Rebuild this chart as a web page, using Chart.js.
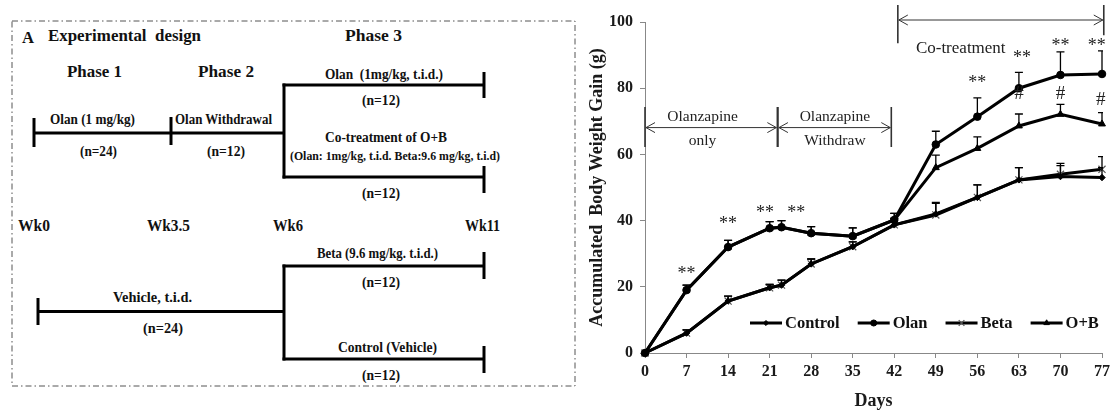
<!DOCTYPE html>
<html><head><meta charset="utf-8">
<script src="https://cdn.jsdelivr.net/npm/chart.js@4.4.0/dist/chart.umd.min.js"></script>
<style>
html,body{margin:0;padding:0;background:#fff;width:1114px;height:413px;overflow:hidden;}
#panelA{position:absolute;left:0;top:0;}
#panelA text{font-family:"Liberation Serif","Times New Roman",serif;font-weight:bold;fill:#111;dominant-baseline:central;text-anchor:middle;}
#wrap{position:absolute;left:585px;top:0;width:529px;height:413px;}
</style></head><body>
<svg id="panelA" width="585" height="413" xmlns="http://www.w3.org/2000/svg"></svg>
<div id="wrap"><canvas id="c" width="529" height="413"></canvas></div>
<script>
// ---------- Panel B data ----------
const days      = [0, 7, 14, 21, 23, 28, 35, 42, 49, 56, 63, 70, 77];
const dayTicks  = [0, 7, 14, 21, 28, 35, 42, 49, 56, 63, 70, 77];
const control   = [0, 6, 15.7, 19.7, 20.5, 26.9, 32.1, 38.7, 42, 47, 52.3, 53.3, 53];
const olan      = [0, 19, 32, 37.7, 38, 36.2, 35.3, 40.2, 63, 71.4, 80, 84, 84.3];
const beta      = [0, 6, 15.7, 19.7, 20.5, 26.9, 32.1, 38.7, 41.7, 47, 52.3, 54, 55.5];
const ob        = [0, 19, 32, 37.7, 38, 36.2, 35.3, 40.2, 56, 61.8, 68.6, 72.1, 69.2];
const controlErr= [0, 1, 1.5, 1, 1.5, 1.5, 1.5, 2, 3.5, 3.8, 3.7, 3.3, 3];
const olanErr   = [0, 1.5, 2, 2, 2, 2, 2.5, 2, 4, 5.7, 4.8, 7, 7];
const betaErr   = [0, 1, 1.5, 1, 1.5, 1.5, 1.5, 2, 3.5, 3.8, 3.7, 3.3, 3.8];
const obErr     = [0, 1.5, 2, 2, 2, 2, 2.5, 2, 3.8, 3.5, 3.6, 3, 3.4];
const seriesNames = ['Control', 'Olan', 'Beta', 'O+B'];
// significance marks [day, value]
const starMarks = [[7,25.1],[14,40.2],[20.2,43.5],[25.5,43.5],[56,82.8],[63.5,90.3],[70,94],[76.1,94]];
const hashMarks = [[63,78.2],[70,78.2],[76.8,76.4]];
// phase spans: [start day, end day, arrow value, bar low, bar high]
const phaseSpans = [[0,22.3,68.1,62.2,74.3],[22.4,41.5,68.1,62.2,74.3],[42.6,77.3,100.6,93.6,105.1]];
const phaseLabels = [['Olanzapine',9.7,71.3],['only',9.7,64],['Olanzapine',32,71.3],['Withdraw',32,64],['Co-treatment',53.2,92]];

// ---------- Panel A (diagram) ----------
const svg = document.getElementById('panelA');
const NS = 'http://www.w3.org/2000/svg';
function el(tag, attrs, txt){ const e=document.createElementNS(NS,tag); for(const k in attrs) e.setAttribute(k,attrs[k]); if(txt!==undefined) e.textContent=txt; svg.appendChild(e); return e; }
function T(cx, cy, s, size, w){ const a={x:cx,y:cy,'font-size':size}; if(w){a.textLength=w;a.lengthAdjust='spacingAndGlyphs';} el('text',a,s); }
function L(x1,y1,x2,y2,w){ el('line',{x1,y1,x2,y2,stroke:'#000','stroke-width':w||3}); }
el('rect',{x:12,y:21,width:563,height:365,fill:'none',stroke:'#555','stroke-width':1,'stroke-dasharray':'6,3,1.5,3'});
T(28,37,'A',17,12);
T(124.5,35,'Experimental\u00a0\u00a0design',17,153);
T(373.5,35,'Phase 3',17,57);
T(94.5,71,'Phase 1',17,55);
T(226,71,'Phase 2',17,56);
T(384,74,'Olan\u00a0\u00a0(1mg/kg, t.i.d.)',14,118);
T(381,100,'(n=12)',14,38);
T(92.5,119,'Olan (1 mg/kg)',14,85);
T(223.5,119,'Olan Withdrawal',14,97);
T(98.5,151,'(n=24)',14,37);
T(226,151,'(n=12)',14,38);
T(386,137,'Co-treatment of O+B',14,122);
T(395,155,'(Olan: 1mg/kg, t.i.d. Beta:9.6 mg/kg, t.i.d)',13.5,210);
T(381,193,'(n=12)',14,38);
T(34,225,'Wk0',16,32); T(168.5,225,'Wk3.5',16,43); T(288,225,'Wk6',16,30); T(482.5,225,'Wk11',16,35);
T(377.5,253,'Beta (9.6 mg/kg. t.i.d.)',14,121);
T(381,282,'(n=12)',14,38);
T(152.5,297,'Vehicle, t.i.d.',14,79);
T(163,328,'(n=24)',14,40);
T(387.5,347,'Control (Vehicle)',14,99);
T(381,375,'(n=12)',14,38);
// lines
L(33,133,284,133); L(34,118,34,147); L(171,117,171,145);
L(284,83.5,284,178.5); L(282.5,85,484,85); L(484,72,484,98);
L(282.5,177,484,177); L(484,166,484,193);
L(38,311.5,284,311.5); L(38,298,38,325);
L(284,264.5,284,360.5); L(282.5,266,484,266); L(484,252,484,279);
L(282.5,359,484,359); L(484,346,484,373);

// ---------- Panel B chart ----------
const SERIF = '"Liberation Serif","Times New Roman",serif';
const pts = v => days.map((d,i)=>({x:d,y:v[i]}));
const styles = [
  {pointStyle:'rectRot', radius:3.2, fill:'#000', stroke:'#000', bw:1},
  {pointStyle:'circle', radius:3.8, fill:'#000', stroke:'#000', bw:1},
  {pointStyle:'crossRot', radius:5, fill:'#555', stroke:'#555', bw:1.2},
  {pointStyle:'triangle', radius:4, fill:'#000', stroke:'#000', bw:1}
];
const vals = [control, olan, beta, ob];
const errs = [controlErr, olanErr, betaErr, obErr];
const datasets = vals.map((v,i)=>({
  label: seriesNames[i], data: pts(v), borderColor:'#000', borderWidth:3, tension:0, clip:false,
  pointStyle: styles[i].pointStyle, pointRadius: styles[i].radius, pointBackgroundColor: styles[i].fill,
  pointBorderColor: styles[i].stroke, pointBorderWidth: styles[i].bw
}));

function drawArrowHead(ctx, x, y, dir){ ctx.moveTo(x + dir*9, y - 5); ctx.lineTo(x, y); ctx.lineTo(x + dir*9, y + 5); }

const overlay = {
  id:'overlay',
  afterDatasetsDraw(chart){
    const {ctx, chartArea:a, scales:{x,y}} = chart;
    ctx.save();
    ctx.beginPath(); ctx.rect(a.left-1, 0, a.right-a.left+2, chart.height); ctx.clip();
    ctx.strokeStyle='#000'; ctx.lineWidth=1.3;
    vals.forEach((v,si)=>{
      days.forEach((d,i)=>{
        const e = errs[si][i]; if(!e) return;
        const px=x.getPixelForValue(d), p0=y.getPixelForValue(v[i]), p1=y.getPixelForValue(v[i]+e);
        ctx.beginPath(); ctx.moveTo(px,p0); ctx.lineTo(px,p1); ctx.moveTo(px-4,p1); ctx.lineTo(px+4,p1); ctx.stroke();
      });
    });
    ctx.restore();
  },
  afterDraw(chart){
    const {ctx, chartArea:a, scales:{x,y}} = chart;
    ctx.save();
    // significance marks
    ctx.fillStyle='#222'; ctx.textAlign='center'; ctx.textBaseline='middle';
    ctx.font = '18px '+SERIF;
    starMarks.forEach(([d,v])=>ctx.fillText('**', x.getPixelForValue(d), y.getPixelForValue(v)+4));
    ctx.font = '19px '+SERIF;
    hashMarks.forEach(([d,v])=>ctx.fillText('#', x.getPixelForValue(d), y.getPixelForValue(v)));
    // phase arrows
    ctx.strokeStyle='#333'; ctx.lineWidth=1;
    phaseSpans.forEach(([s,e,v,lo,hi])=>{
      const x1=x.getPixelForValue(s), x2=x.getPixelForValue(e), py=y.getPixelForValue(v);
      ctx.beginPath();
      ctx.moveTo(x1+1,py); ctx.lineTo(x2-1,py);
      drawArrowHead(ctx, x1+1, py, 1); drawArrowHead(ctx, x2-1, py, -1);
      ctx.stroke();
      ctx.lineWidth=1.6; ctx.beginPath();
      ctx.moveTo(x1, y.getPixelForValue(lo)); ctx.lineTo(x1, y.getPixelForValue(hi));
      ctx.moveTo(x2, y.getPixelForValue(lo + (e>70?2.4:0))); ctx.lineTo(x2, y.getPixelForValue(hi));
      ctx.stroke(); ctx.lineWidth=1;
    });
    ctx.fillStyle='#222';
    phaseLabels.forEach(([t,d,v])=>{
      ctx.font = (t==='Co-treatment' ? '17px ' : '15.5px ') + SERIF;
      ctx.fillText(t, x.getPixelForValue(d), y.getPixelForValue(v));
    });
    // legend
    ctx.font = 'bold 16.5px '+SERIF; ctx.textAlign='left'; ctx.fillStyle='#111';
    let lx = a.left + 105; const ly = a.bottom - 30;
    seriesNames.forEach((n,i)=>{
      ctx.strokeStyle='#000'; ctx.lineWidth=3;
      ctx.beginPath(); ctx.moveTo(lx,ly); ctx.lineTo(lx+32,ly); ctx.stroke();
      ctx.fillStyle=styles[i].fill; ctx.strokeStyle=styles[i].stroke; ctx.lineWidth=styles[i].bw;
      Chart.helpers.drawPoint(ctx,{pointStyle:styles[i].pointStyle, radius:styles[i].radius*0.8, rotation:0, borderWidth:styles[i].bw}, lx+16, ly);
      ctx.fillStyle='#111';
      ctx.fillText(n, lx+35, ly+1);
      lx += 35 + ctx.measureText(n).width + 18;
    });
    ctx.restore();
  }
};

new Chart(document.getElementById('c'), {
  type:'line',
  data:{datasets},
  options:{
    responsive:false, animation:false, devicePixelRatio:1,
    layout:{padding:{top:22,right:11,left:0,bottom:0}},
    plugins:{legend:{display:false}, tooltip:{enabled:false}},
    scales:{
      x:{type:'linear', min:0, max:77,
        afterBuildTicks:s=>{ s.ticks = dayTicks.map(v=>({value:v})); },
        afterFit:s=>{ s.height=60; },
        grid:{drawOnChartArea:false, drawTicks:true, tickLength:5, color:'#888'},
        border:{color:'#888', width:1},
        ticks:{font:{family:SERIF, size:16, weight:'bold'}, color:'#1a1a1a', padding:4, maxRotation:0, autoSkip:false},
        title:{display:true, text:'Days', font:{family:SERIF, size:18, weight:'bold'}, color:'#1a1a1a', padding:{top:0,bottom:1}}
      },
      y:{min:0, max:100,
        ticks:{stepSize:20, font:{family:SERIF, size:16, weight:'bold'}, color:'#1a1a1a', padding:7},
        afterFit:s=>{ s.width=60; },
        grid:{drawOnChartArea:false, drawTicks:true, tickLength:5, color:'#888'},
        border:{color:'#888', width:1},
        title:{display:true, text:'Accumulated\u00a0 Body Weight Gain (g)', font:{family:SERIF, size:18, weight:'bold'}, color:'#1a1a1a', padding:{top:2,bottom:0}}
      }
    }
  },
  plugins:[overlay]
});
</script>
</body></html>
